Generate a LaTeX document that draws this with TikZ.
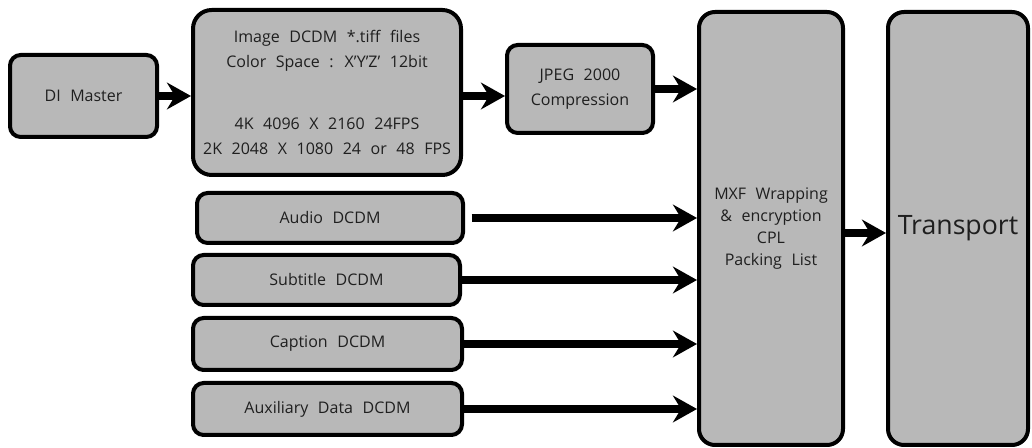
\documentclass[tikz,border=0pt]{standalone}
\usepackage{fontspec}
\setmainfont[WordSpace=2.3]{Open Sans}
\usetikzlibrary{arrows.meta}
\definecolor{boxgray}{gray}{0.72}
\definecolor{txt}{gray}{0.12}
\begin{document}
\begin{tikzpicture}[x=0.75pt,y=-0.75pt,
  box/.style={draw=black, line width=3pt, fill=boxgray, rounded corners=8pt,
    inner sep=0pt, align=center, text=txt, font=\fontsize{12}{19}\selectfont},
  arr/.style={line width=6pt, -{Stealth[length=18pt,width=20pt,inset=6pt]}}
]
\useasboundingbox (0,0) rectangle (1032,448);
\node[box, minimum width=110.25pt, minimum height=61.5pt] (di) at (83.5,96) {DI Master};
\node[box, rounded corners=14pt, minimum width=201pt, minimum height=123.75pt] (img) at (327,92.5)
  {Image DCDM *.tiff files\\Color Space : X'Y'Z' 12bit\\[27pt]4K 4096 X 2160 24FPS\\2K 2048 X 1080 24 or 48 FPS};
\node[box, minimum width=109.5pt, minimum height=66pt] (jpeg) at (580,89) {JPEG 2000\\Compression};
\node[box, rounded corners=12pt, minimum width=108pt, minimum height=324.75pt,
  font=\fontsize{12}{16.5}\selectfont] (mxf) at (771,228.5)
  {MXF Wrapping\\\& encryption\\CPL\\Packing List};
\node[box, rounded corners=12pt, minimum width=105pt, minimum height=324.75pt,
  font=\fontsize{20}{24}\selectfont] (tr) at (958,228.5) {Transport};
\node[box, minimum width=199.5pt, minimum height=37.5pt] (audio) at (330,218) {Audio DCDM};
\node[box, minimum width=200.25pt, minimum height=37.5pt] (sub) at (326.5,280) {Subtitle DCDM};
\node[box, minimum width=201.75pt, minimum height=39pt] (cap) at (327.5,344) {Caption DCDM};
\node[box, minimum width=201.75pt, minimum height=39pt] (aux) at (327.5,409) {Auxiliary Data DCDM};
\draw[arr] (di.east) -- (di.east -| img.west);
\draw[arr] (img.east |- di.east) -- (jpeg.west |- di.east);
\draw[arr] (jpeg.east) -- (jpeg.east -| mxf.west);
\draw[arr] ([xshift=5pt]audio.east) -- (audio.east -| mxf.west);
\draw[arr] (sub.east) -- (sub.east -| mxf.west);
\draw[arr] (cap.east) -- (cap.east -| mxf.west);
\draw[arr] (aux.east) -- (aux.east -| mxf.west);
\draw[arr] (mxf.east |- 0,233) -- (tr.west |- 0,233);
\end{tikzpicture}
\end{document}
